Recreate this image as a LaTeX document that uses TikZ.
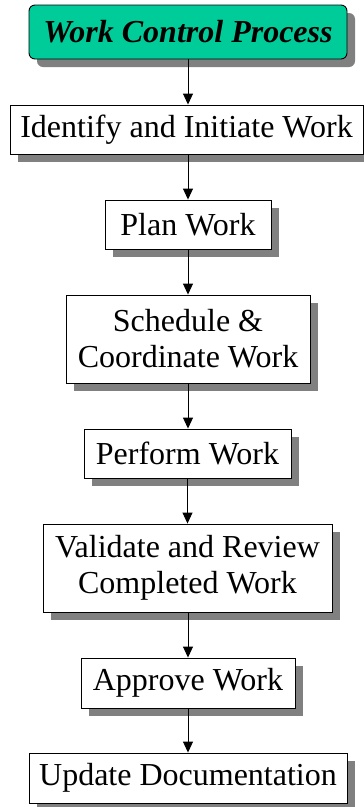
\documentclass[tikz,border=0pt]{standalone}
\usepackage{fontspec}
\setmainfont{Liberation Serif}
\usetikzlibrary{arrows.meta,shadows}
\definecolor{tealbox}{RGB}{0,204,153}
\definecolor{shadowgray}{RGB}{128,128,128}
\begin{document}
\begin{tikzpicture}[x=1pt,y=1pt,
  shad/.style={drop shadow={shadow xshift=8pt,shadow yshift=-8pt,fill=shadowgray,opacity=1}},
  procbox/.style={draw=black,line width=0.9pt,fill=white,shad,inner sep=0pt,align=center,
    font=\fontsize{32}{36}\selectfont},
  titlebox/.style={draw=black,line width=0.9pt,fill=tealbox,rounded corners=6pt,shad,inner sep=0pt,
    font=\fontsize{32}{36}\selectfont\bfseries\itshape},
  arr/.style={draw=black,line width=0.9pt,-{Triangle[width=10pt,length=11pt]}}]
\useasboundingbox (0,0) rectangle (364,-807);
\node[titlebox,minimum width=318pt,minimum height=54pt] (t) at (188,-32) {Work Control Process};
\node[procbox,minimum width=353pt,minimum height=49pt] (b1) at (186.5,-129.5) {Identify and Initiate Work};
\node[procbox,minimum width=166pt,minimum height=49pt] (b2) at (188,-224.5) {Plan Work};
\node[procbox,minimum width=244pt,minimum height=88pt] (b3) at (188,-339) {Schedule \&\\Coordinate Work};
\node[procbox,minimum width=207pt,minimum height=49pt] (b4) at (187.5,-453.5) {Perform Work};
\node[procbox,minimum width=289pt,minimum height=88pt] (b5) at (187.5,-568) {Validate and Review\\Completed Work};
\node[procbox,minimum width=214pt,minimum height=50pt] (b6) at (188,-683) {Approve Work};
\node[procbox,minimum width=318pt,minimum height=50pt] (b7) at (188,-778) {Update Documentation};
\draw[arr] (t.south) -- (t.south |- b1.north);
\draw[arr] (b2.north |- b1.south) -- (b2.north);
\draw[arr] (b2.south) -- (b3.north);
\draw[arr] (b3.south) -- (b3.south |- b4.north);
\draw[arr] (b4.south) -- (b4.south |- b5.north);
\draw[arr] (b6.north |- b5.south) -- (b6.north);
\draw[arr] (b6.south) -- (b7.north);
\end{tikzpicture}
\end{document}
